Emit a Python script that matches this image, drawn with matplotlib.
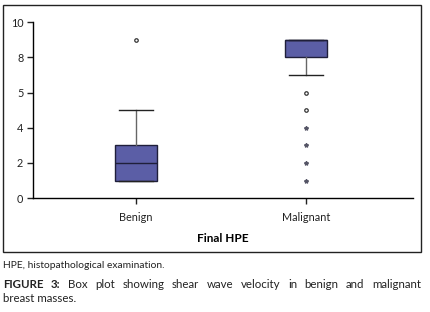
import matplotlib
matplotlib.use("Agg")
import matplotlib.pyplot as plt
from matplotlib.patches import Rectangle

# values
groups = ['Benign', 'Malignant']
q1 = [1, 8]
median = [2, 9]
q3 = [3, 9]
whis_lo = [1, 7]
whis_hi = [5, 9]
outliers = [[9], [6, 5]]        # drawn as open circles
extremes = [[], [4, 3, 2, 1]]   # drawn as stars
ytick_vals = [0, 2, 4, 6, 8, 10]
ytick_labels = ['0', '2', '4', '5', '8', '10']

plt.rcParams['font.family'] = ['Lato', 'DejaVu Sans']

fig = plt.figure(figsize=(4.31, 3.12), dpi=100)
ax = fig.add_axes([0.0766, 0.365, 0.8814, 0.564])

pos = [1, 2]
stats = []
for i, g in enumerate(groups):
    stats.append(dict(label=g, q1=q1[i], med=median[i], q3=q3[i],
                      whislo=whis_lo[i], whishi=whis_hi[i], fliers=[]))

ax.bxp(stats, positions=pos, widths=0.25, patch_artist=True, showfliers=False,
       boxprops=dict(facecolor='#5b5ea6', edgecolor='#1f1f3a', linewidth=1),
       medianprops=dict(color='#1f1f3a', linewidth=1),
       whiskerprops=dict(color='#666666', linewidth=1),
       capprops=dict(color='#222222', linewidth=1),
       capwidths=0.2)

for p, o, e in zip(pos, outliers, extremes):
    if o:
        ax.plot([p] * len(o), o, 'o', ms=2.5, mfc='white', mec='#333333', mew=0.9)
    if e:
        ax.plot([p] * len(e), e, '*', ms=3, color='#555566')

ax.set_xlim(0.394, 2.63)
ax.set_ylim(0, 10)
ax.set_yticks(ytick_vals)
ax.set_yticklabels(ytick_labels)
ax.set_xticks(pos)
ax.set_xticklabels(groups)
ax.tick_params(axis='both', labelsize=7.8, length=4, width=1, colors='#222222')
ax.tick_params(axis='y', pad=3)
ax.tick_params(axis='x', pad=6)
for s in ['top', 'right']:
    ax.spines[s].set_visible(False)
for s in ['left', 'bottom']:
    ax.spines[s].set_linewidth(1)
ax.set_xlabel('Final HPE', fontsize=8.5, fontweight='bold', labelpad=7)

# outer frame of the chart
fig.patches.append(Rectangle((3 / 431, 1 - 252 / 312), 418 / 431, 247 / 312,
                             transform=fig.transFigure, fill=False,
                             edgecolor='#222222', linewidth=1))

fig.text(3 / 431, 1 - 266 / 312, 'HPE, histopathological examination.',
         fontsize=7.4, va='center', color='#222222')

# justified first caption line
renderer = fig.canvas.get_renderer()
words = ['FIGURE', '3:', 'Box', 'plot', 'showing', 'shear', 'wave', 'velocity',
         'in', 'benign', 'and', 'malignant']
texts = []
for i, w in enumerate(words):
    t = fig.text(0, 1 - 284 / 312, w, fontsize=8.3, va='center', color='#222222',
                 fontweight='bold' if i < 2 else 'normal')
    texts.append(t)
widths = [t.get_window_extent(renderer).width for t in texts]
x0, x1 = 3, 421
gap = (x1 - x0 - sum(widths)) / (len(words) - 1)
x = x0
for t, w in zip(texts, widths):
    t.set_x(x / 431)
    x += w + gap
fig.text(3 / 431, 1 - 298 / 312, 'breast masses.', fontsize=8.3, va='center',
         color='#222222')

fig.savefig('out.png', dpi=100)
